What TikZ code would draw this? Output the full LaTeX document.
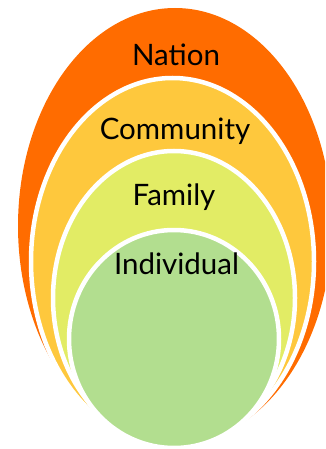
\documentclass[tikz,border=0pt]{standalone}
\usepackage{fontspec}
\setmainfont{Lato}
\definecolor{cNation}{RGB}{255,108,0}
\definecolor{cCommunity}{RGB}{254,200,61}
\definecolor{cFamily}{RGB}{226,236,101}
\definecolor{cIndividual}{RGB}{178,222,143}
\begin{document}
\begin{tikzpicture}[x=1pt,y=-1pt,
  ring/.style={draw=white,line width=4.5pt},
  lbl/.style={anchor=base,inner sep=0pt,font=\fontsize{29.5}{33}\selectfont,text=black}]
\useasboundingbox (0,0) rectangle (325,449);
\clip (0,0) rectangle (325,449);
\fill[cNation] (175,226) ellipse [x radius=157pt,y radius=218pt];
\filldraw[ring,fill=cCommunity] (172.5,261.5) ellipse [x radius=141.5pt,y radius=183.5pt];
\filldraw[ring,fill=cFamily] (174,298) ellipse [x radius=121pt,y radius=147pt];
\filldraw[ring,fill=cIndividual] (174,339) ellipse [x radius=105pt,y radius=109pt];
\node[lbl] (nation) at (176,66) {Nation};
\node[lbl] (community) at (175,140) {Community};
\node[lbl] (family) at (174,205) {Family};
\node[lbl] (individual) at (176.5,274) {Individual};
\end{tikzpicture}
\end{document}
